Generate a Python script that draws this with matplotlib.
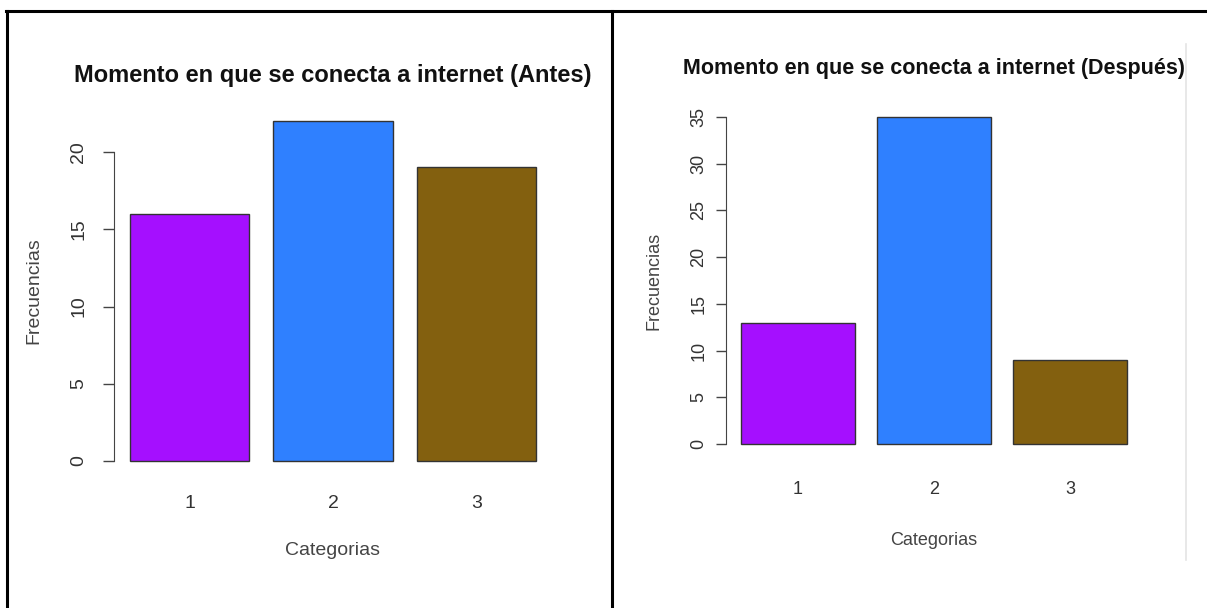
import matplotlib
matplotlib.use("Agg")
import matplotlib.pyplot as plt
from matplotlib.lines import Line2D

plt.rcParams['font.family'] = ['Liberation Sans', 'DejaVu Sans']

categories = ["1", "2", "3"]
antes = [16, 22, 19]
despues = [13, 35, 9]
colors = ["#A50FFF", "#2F80FF", "#83600F"]
titles = ["Momento en que se conecta a internet (Antes)",
          "Momento en que se conecta a internet (Después)"]
yticks_antes = [0, 5, 10, 15, 20]
yticks_despues = [0, 5, 10, 15, 20, 25, 30, 35]

W, H = 1207, 608
fig = plt.figure(figsize=(W / 100, H / 100), dpi=100)


def px_axes(x0, y_top, x1, y_bot):
    return fig.add_axes([x0 / W, 1 - y_bot / H, (x1 - x0) / W, (y_bot - y_top) / H])


def r_barplot(ax, values, yticks, title, fs, fs_title, title_y,
              ytick_pad, tick_len, xtick_pad, xlab_pad, ylab_pad):
    lefts = [0.2 + 1.2 * i for i in range(len(values))]
    centers = [l + 0.5 for l in lefts]
    ax.bar(centers, values, width=1.0, color=colors, edgecolor="#333333", linewidth=1.0)
    xl0, xl1 = 0.2, lefts[-1] + 1.0
    ex = (xl1 - xl0) * 0.04
    ax.set_xlim(xl0 - ex, xl1 + ex)
    ymax = max(values)
    ax.set_ylim(-ymax * 0.04, ymax * 1.04)
    for s in ["top", "right", "bottom"]:
        ax.spines[s].set_visible(False)
    ax.spines["left"].set_bounds(yticks[0], yticks[-1])
    ax.spines["left"].set_color("#444444")
    ax.set_yticks(yticks)
    ax.set_yticklabels([str(t) for t in yticks], rotation=90, va="center",
                       fontsize=fs, color="#333333")
    ax.tick_params(axis="y", length=tick_len, width=1.0, color="#444444", pad=ytick_pad)
    ax.set_xticks(centers)
    ax.set_xticklabels(categories, fontsize=fs, color="#333333")
    ax.tick_params(axis="x", length=0, pad=xtick_pad)
    ax.set_title(title, fontsize=fs_title, fontweight="bold", color="#111111", y=title_y)
    ax.set_xlabel("Categorias", fontsize=fs, color="#444444", labelpad=xlab_pad)
    ax.set_ylabel("Frecuencias", fontsize=fs, color="#444444", labelpad=ylab_pad)
    ax.patch.set_alpha(0)


# Left chart: y=0 at 461 px, 15.45 px per unit; bars 130..536 px
u1 = (461 - 152) / 20
ax1 = px_axes(113.8, 461 - 22.88 * u1, 552.2, 461 + 0.88 * u1)
r_barplot(ax1, antes, yticks_antes, titles[0], 14, 17, 1.047,
          ytick_pad=11, tick_len=8, xtick_pad=14.5, xlab_pad=22, ylab_pad=20)

# Right chart: y=0 at 444 px, 9.34 px per unit; bars 741..1127 px
u2 = (444 - 117) / 35
ax2 = px_axes(725.6, 444 - 36.4 * u2, 1142.4, 444 + 1.4 * u2)
r_barplot(ax2, despues, yticks_despues, titles[1], 13, 15.5, 1.06,
          ytick_pad=6, tick_len=7, xtick_pad=17, xlab_pad=24.5, ylab_pad=20.5)

# Table borders
def fig_line(x0, y0, x1, y1, color="black", lw=2.2):
    fig.add_artist(Line2D([x0 / W, x1 / W], [1 - y0 / H, 1 - y1 / H],
                          color=color, linewidth=lw, transform=fig.transFigure))

fig_line(6, 11, W, 11)
fig_line(7, 11, 7, H)
fig_line(612, 11, 612, H)
fig_line(1186, 44, 1186, 560, color="#e4e4e4", lw=1.2)

fig.savefig("out.png", dpi=100)
